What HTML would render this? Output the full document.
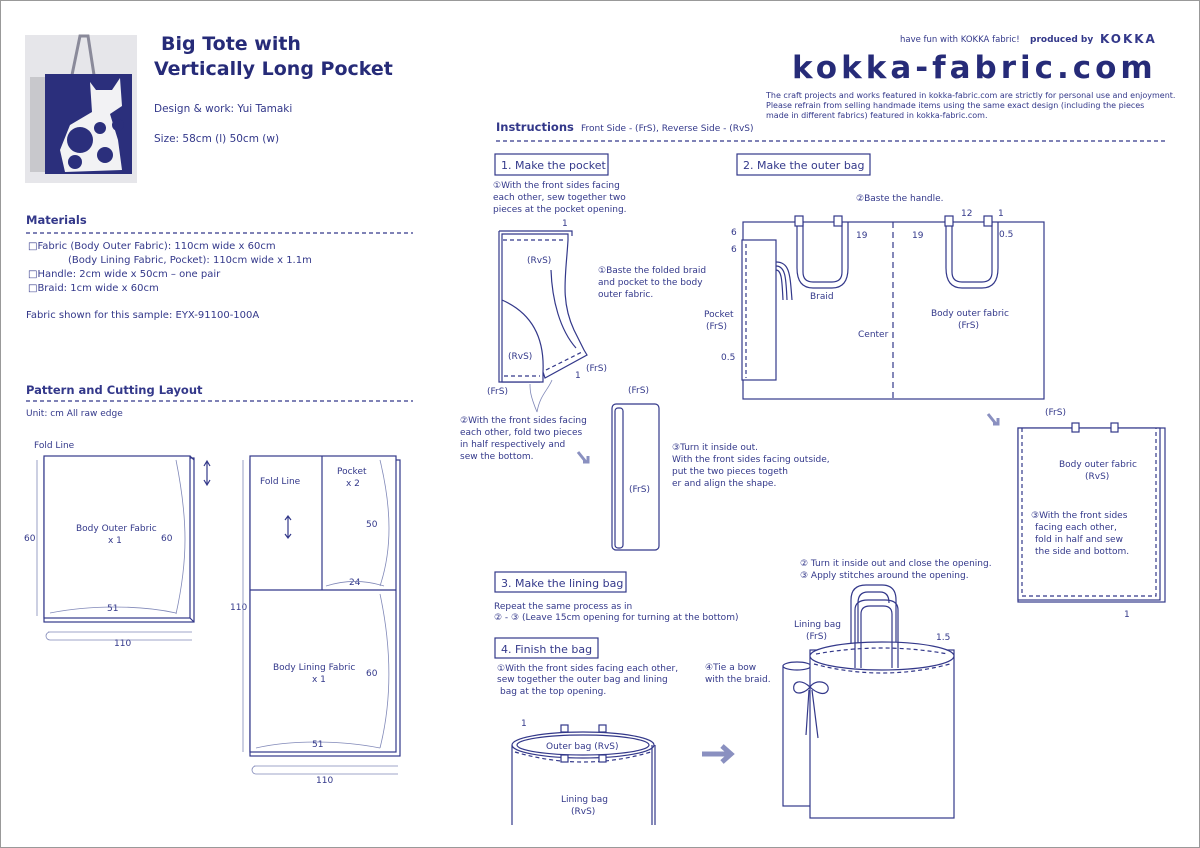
<!DOCTYPE html>
<html><head><meta charset="utf-8"><style>
html,body{margin:0;padding:0;background:#fff}
svg{display:block}
text{font-family:"DejaVu Sans","Liberation Sans",sans-serif;fill:#33388a}
.s{stroke:#33388a;fill:none;stroke-width:1.2}
.d{stroke:#33388a;fill:none;stroke-width:1.2;stroke-dasharray:4 3}
.w{stroke:#33388a;fill:#fff;stroke-width:1.2}
.t{stroke:#8088b8;fill:none;stroke-width:0.8}
</style></head><body>
<svg width="1200" height="848" viewBox="0 0 1200 848">
<rect x="0.5" y="0.5" width="1199" height="847" fill="#fff" stroke="#999"/>
<!-- photo -->
<rect x="25" y="35" width="112" height="148" fill="#e6e6ea"/>
<path d="M72 75 L80 36 L88 36 L94 75" stroke="#8a8a9a" stroke-width="3" fill="none"/>
<rect x="30" y="77" width="16" height="95" fill="#c8c8cc"/>
<rect x="45" y="74" width="87" height="100" fill="#2b2f7c"/>
<path d="M90 82 L96 90 L112 90 L120 78 L122 106 L110 114 L118 140 L122 170 L65 172 L60 150 L70 125 L92 112 Z" fill="#f2f2f4"/>
<circle cx="80" cy="140" r="13" fill="#2b2f7c"/><circle cx="105" cy="155" r="8" fill="#2b2f7c"/><circle cx="75" cy="162" r="7" fill="#2b2f7c"/><circle cx="100" cy="128" r="6" fill="#2b2f7c"/><circle cx="118" cy="125" r="6" fill="#2b2f7c"/>
<!-- title -->
<text x="161" y="50" font-size="19" font-weight="bold" style="fill:#262b78">Big Tote with</text>
<text x="154" y="75" font-size="19" font-weight="bold" style="fill:#262b78">Vertically Long Pocket</text>
<text x="154" y="112" font-size="10.5">Design &amp; work: Yui Tamaki</text>
<text x="154" y="142" font-size="10.5">Size: 58cm (l)  50cm (w)</text>
<!-- header right -->
<text x="900" y="42" font-size="8.5">have fun with KOKKA fabric!</text>
<text x="1030" y="42" font-size="9" font-weight="bold">produced by</text>
<text x="1100" y="43" font-size="12" font-weight="bold" letter-spacing="2">KOKKA</text>
<text x="792" y="78" font-size="31" font-weight="bold" letter-spacing="4" style="fill:#262b78">kokka-fabric.com</text>
<text x="766" y="98" font-size="8">The craft projects and works featured in kokka-fabric.com are strictly for personal use and enjoyment.</text>
<text x="766" y="108" font-size="8">Please refrain from selling handmade items using the same exact design (including the pieces</text>
<text x="766" y="118" font-size="8">made in different fabrics) featured in kokka-fabric.com.</text>
<!-- Materials -->
<text x="26" y="224" font-size="11.5" font-weight="bold">Materials</text>
<line x1="26" y1="233" x2="413" y2="233" class="d"/>
<g font-size="10">
<text x="28" y="249">□Fabric (Body Outer Fabric): 110cm wide x 60cm</text>
<text x="68" y="263">(Body Lining Fabric, Pocket): 110cm wide x 1.1m</text>
<text x="28" y="277">□Handle: 2cm wide x 50cm – one pair</text>
<text x="28" y="291">□Braid: 1cm wide x 60cm</text>
<text x="26" y="318">Fabric shown for this sample: EYX-91100-100A</text>
</g>
<text x="26" y="394" font-size="11.5" font-weight="bold">Pattern and Cutting Layout</text>
<line x1="26" y1="401" x2="413" y2="401" class="d"/>
<text x="26" y="416" font-size="9">Unit: cm   All raw edge</text>
<!-- body outer fabric -->
<text x="34" y="448" font-size="9">Fold Line</text>
<rect x="44" y="458" width="150" height="164" class="s"/>
<rect x="44" y="456" width="146" height="162" class="w"/>
<path d="M190 456 L194 460 M190 618 L194 622" class="s"/>
<path d="M176 460 C188 520 188 560 176 614" class="t"/>
<path d="M50 613 C90 605 140 605 176 613" class="t"/>
<text x="76" y="531" font-size="9">Body Outer Fabric</text>
<text x="108" y="543" font-size="9">x 1</text>
<text x="161" y="541" font-size="9">60</text>
<text x="107" y="611" font-size="9">51</text>
<text x="24" y="541" font-size="9">60</text>
<path d="M37 460 V616" class="t"/>
<path d="M207 462 V484 M204 466 L207 461 L210 466 M204 480 L207 485 L210 480" class="s"/>
<path d="M48 632 H192 M50 632 A4 4 0 0 0 50 640 H192" class="t"/>
<text x="114" y="646" font-size="9">110</text>
<!-- lining layout -->
<rect x="250" y="460" width="150" height="296" class="s"/>
<rect x="250" y="456" width="146" height="296" class="w"/>
<line x1="322" y1="456" x2="322" y2="590" class="s"/>
<line x1="250" y1="590" x2="396" y2="590" class="s"/>
<text x="260" y="484" font-size="9">Fold Line</text>
<text x="337" y="474" font-size="9">Pocket</text>
<text x="346" y="486" font-size="9">x 2</text>
<text x="366" y="527" font-size="9">50</text>
<text x="349" y="585" font-size="9">24</text>
<path d="M288 517 V537 M285 520 L288 516 L291 520 M285 534 L288 538 L291 534" class="s"/>
<path d="M380 460 C392 510 392 550 380 586" class="t"/>
<path d="M326 586 C345 580 365 580 384 586" class="t"/>
<text x="273" y="670" font-size="9">Body Lining Fabric</text>
<text x="312" y="682" font-size="9">x 1</text>
<text x="366" y="676" font-size="9">60</text>
<path d="M380 594 C392 650 392 700 380 748" class="t"/>
<path d="M256 748 C290 740 340 740 380 748" class="t"/>
<text x="312" y="747" font-size="9">51</text>
<text x="230" y="610" font-size="9">110</text>
<path d="M243 460 V752" class="t"/>
<path d="M254 766 H398 M256 766 A4 4 0 0 0 256 774 H398" class="t"/>
<text x="316" y="783" font-size="9">110</text>
<!-- instructions header -->
<text x="496" y="131" font-size="11.5" font-weight="bold">Instructions</text>
<text x="581" y="131" font-size="9">Front Side - (FrS), Reverse Side - (RvS)</text>
<line x1="496" y1="141" x2="1168" y2="141" class="d"/>
<!-- 1 -->
<rect x="495" y="154" width="113" height="21" class="s"/>
<text x="501" y="169" font-size="11">1. Make the pocket</text>
<g font-size="9">
<text x="493" y="188">①With the front sides facing</text>
<text x="493" y="200">each other, sew together two</text>
<text x="493" y="212">pieces at the pocket opening.</text>
</g>
<path d="M499 231 H572 V236 M499 231 V382 H540" class="s"/>
<path d="M502 234 H568 V240 C566 275 560 300 574 330 L584 350 L587 355 L545 378 L543 372 V382 H502 Z" class="w"/>
<path d="M503 240 H566" class="d"/>
<path d="M504 376 H540" class="d"/>
<path d="M546 370 L582 352" class="d"/>
<path d="M502 300 C525 310 545 330 543 372" class="s"/>
<path d="M551 270 C552 300 560 330 576 348" class="s"/>
<g font-size="9"><text x="527" y="263">(RvS)</text><text x="508" y="359">(RvS)</text><text x="586" y="371">(FrS)</text><text x="487" y="394">(FrS)</text><text x="575" y="378">1</text><text x="562" y="226">1</text></g>
<g font-size="9">
<text x="460" y="423">②With the front sides facing</text>
<text x="460" y="435">each other, fold two pieces</text>
<text x="460" y="447">in half respectively and</text>
<text x="460" y="459">sew the bottom.</text>
</g>
<path d="M537 412 C540 395 548 390 552 380 M537 412 C530 395 530 390 530 384" class="t"/>
<path d="M578 452 L586 462 M583 462 H588 V456" stroke="#8a90c0" stroke-width="3" fill="none"/>
<rect x="612" y="404" width="47" height="146" rx="4" class="s"/>
<rect x="615" y="408" width="8" height="140" rx="3" class="s"/>
<text x="628" y="393" font-size="9">(FrS)</text>
<text x="629" y="492" font-size="9">(FrS)</text>
<g font-size="9">
<text x="672" y="450">③Turn it inside out.</text>
<text x="672" y="462">With the front sides facing outside,</text>
<text x="672" y="474">put the two pieces togeth</text>
<text x="672" y="486">er and align the shape.</text>
</g>
<!-- 2 -->
<rect x="737" y="154" width="133" height="21" class="s"/>
<text x="743" y="169" font-size="11">2. Make the outer bag</text>
<rect x="743" y="222" width="301" height="177" class="s"/>
<line x1="893" y1="222" x2="893" y2="399" class="s" stroke-dasharray="6 4"/>
<path d="M803 222 V272 Q803 282 813 282 H832 Q842 282 842 272 V222 M797 222 V268 Q797 288 813 288 H832 Q848 288 848 268 V222" class="s"/>
<path d="M952 222 V272 Q952 282 962 282 H982 Q992 282 992 272 V222 M946 222 V268 Q946 288 962 288 H982 Q998 288 998 268 V222" class="s"/>
<rect x="795" y="216" width="8" height="10" class="w"/><rect x="834" y="216" width="8" height="10" class="w"/>
<rect x="945" y="216" width="8" height="10" class="w"/><rect x="984" y="216" width="8" height="10" class="w"/>
<rect x="742" y="240" width="34" height="140" class="w"/>
<line x1="746" y1="244" x2="746" y2="378" class="d"/>
<path d="M776 262 C790 262 790 275 792 300 M776 266 C786 266 786 280 787 300 M776 270 C782 270 782 282 783 300" class="s"/>
<g font-size="9">
<text x="856" y="201">②Baste the handle.</text>
<text x="961" y="216">12</text><text x="998" y="216">1</text><text x="999" y="237">0.5</text>
<text x="856" y="238">19</text><text x="912" y="238">19</text>
<text x="731" y="235">6</text><text x="731" y="252">6</text>
<text x="598" y="273">①Baste the folded braid</text>
<text x="598" y="285">and pocket to the body</text>
<text x="598" y="297">outer fabric.</text>
<text x="810" y="299">Braid</text>
<text x="704" y="317">Pocket</text><text x="706" y="329">(FrS)</text>
<text x="721" y="360">0.5</text>
<text x="858" y="337">Center</text>
<text x="931" y="316">Body outer fabric</text><text x="958" y="328">(FrS)</text>
</g>
<path d="M988 414 L996 424 M993 424 H998 V418" stroke="#8a90c0" stroke-width="3" fill="none"/>
<text x="1045" y="415" font-size="9">(FrS)</text>
<rect x="1018" y="428" width="147" height="174" class="s"/>
<rect x="1018" y="428" width="142" height="172" class="w"/>
<path d="M1022 428 V596 H1156 V428 M1156 428" class="d"/>
<rect x="1072" y="423" width="7" height="9" class="w"/><rect x="1111" y="423" width="7" height="9" class="w"/>
<g font-size="9">
<text x="1059" y="467">Body outer fabric</text><text x="1085" y="479">(RvS)</text>
<text x="1031" y="518">③With the front sides</text>
<text x="1035" y="530">facing each other,</text>
<text x="1035" y="542">fold in half and sew</text>
<text x="1035" y="554">the side and bottom.</text>
<text x="1124" y="617">1</text>
</g>
<!-- 3 -->
<rect x="495" y="572" width="131" height="20" class="s"/>
<text x="501" y="587" font-size="11">3. Make the lining bag</text>
<text x="494" y="609" font-size="9">Repeat the same process as in</text>
<text x="494" y="620" font-size="9">②  - ③ (Leave 15cm opening for turning at the bottom)</text>
<!-- 4 -->
<rect x="495" y="638" width="103" height="20" class="s"/>
<text x="501" y="653" font-size="11">4. Finish the bag</text>
<g font-size="9">
<text x="497" y="671">①With the front sides facing each other,</text>
<text x="497" y="682">sew together the outer bag and lining</text>
<text x="500" y="694"> bag at the top opening.</text>
</g>
<path d="M512 745 V825 M652 745 V825 M655 745 V825" class="s"/>
<ellipse cx="583" cy="745" rx="71" ry="13" class="s"/>
<ellipse cx="583" cy="745" rx="66" ry="10" class="s"/>
<path d="M515 752 Q583 772 651 752" class="d"/>
<rect x="561" y="725" width="7" height="7" class="w"/><rect x="599" y="725" width="7" height="7" class="w"/>
<rect x="561" y="755" width="7" height="7" class="w"/><rect x="599" y="755" width="7" height="7" class="w"/>
<g font-size="9"><text x="546" y="749">Outer bag (RvS)</text><text x="521" y="726">1</text><text x="561" y="802">Lining bag</text><text x="571" y="814">(RvS)</text></g>
<path d="M702 754 H730 M722 746 L731 754 L722 762" stroke="#8a90c0" stroke-width="5" fill="none"/>
<!-- finished bag -->
<g font-size="9">
<text x="800" y="566">② Turn it inside out and close the opening.</text>
<text x="800" y="578">③ Apply stitches around the opening.</text>
<text x="705" y="670">④Tie a bow</text>
<text x="705" y="682">with the braid.</text>
<text x="794" y="627">Lining bag</text><text x="806" y="639">(FrS)</text>
<text x="936" y="640">1.5</text>
<text x="858" y="738">Outer bag</text><text x="870" y="750">(FrS)</text>
</g>
<rect x="783" y="666" width="28" height="140" class="w"/>
<ellipse cx="797" cy="666" rx="14" ry="4" class="w"/>
<path d="M851 650 V600 Q851 585 866 585 H882 Q896 585 896 600 V650 M858 650 V603 Q858 592 868 592 H880 Q889 592 889 603" class="s"/>
<rect x="810" y="650" width="144" height="168" class="w"/>
<ellipse cx="882" cy="656" rx="72" ry="14" class="w"/>
<path d="M814 664 Q882 682 950 664" class="d"/>
<path d="M816 654 Q882 642 948 654" class="d"/>
<path d="M855 668 V610 Q855 600 868 600 H885 Q898 600 898 610 V668 M861 668 V614 Q861 606 870 606 H883 Q892 606 892 614 V668" class="s"/>
<path d="M810 687 C800 678 792 682 794 690 C797 696 806 692 810 687 C816 678 830 682 828 690 C825 697 815 692 810 687 M809 690 L806 735 M812 690 L818 738" class="s"/>
</svg>
</body></html>
